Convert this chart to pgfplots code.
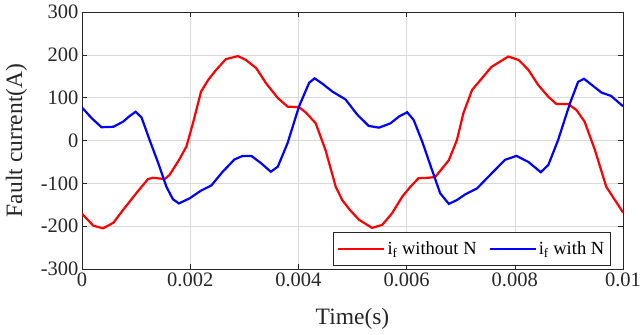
\documentclass[border=0pt]{standalone}
\usepackage{pgfplots}
\pgfplotsset{compat=1.18}
\usepackage{fontspec}
\setmainfont{Liberation Serif}
\definecolor{axgray}{gray}{0.15}
\begin{document}
\begin{tikzpicture}
\begin{axis}[
  scale only axis, width=541pt, height=257pt,
  xmin=0, xmax=0.01, ymin=-300, ymax=300,
  xtick={0,0.002,0.004,0.006,0.008,0.01},
  xticklabels={0,0.002,0.004,0.006,0.008,0.01},
  scaled x ticks=false,
  ytick={-300,-200,-100,0,100,200,300},
  yticklabels={-300,-200,-100,0,100,200,300},
  /pgf/number format/assume math mode=true,
  font=\fontsize{20.5}{24}\selectfont,
  ticklabel style={font=\fontsize{20.5}{24}\selectfont, text=axgray},
  label style={font=\fontsize{23.5}{28}\selectfont, text=axgray},
  axis line style={axgray, line width=0.6pt},
  tick style={axgray, line width=0.6pt},
  tick align=inside, major tick length=5pt,
  grid=major, major grid style={gray!30, line width=0.5pt},
  xlabel={Time(s)}, ylabel={Fault current(A)},
  xlabel style={yshift=-15pt},
  ylabel style={yshift=7pt},
  legend columns=2,
  legend style={at={(rel axis cs:0.977,0.014)}, anchor=south east,
    font=\fontsize{18.5}{22}\selectfont, draw=axgray, line width=0.6pt,
    inner xsep=4pt, inner ysep=7pt,
    /tikz/every even column/.append style={column sep=10pt}},
  legend image code/.code={\draw[#1, line width=2.2pt] (0pt,0pt) -- (46pt,0pt);},
]
\addplot[red, line width=2.2pt] table {
0 -171
0.00021 -199
0.00039 -205
0.00058 -192
0.00076 -162
0.00101 -122
0.00122 -90
0.00131 -87
0.00153 -90
0.00162 -80
0.0018 -44
0.00193 -14
0.00205 40
0.0022 114
0.00233 141
0.00248 165
0.00266 190
0.00288 197
0.00303 188
0.00322 169
0.0034 134
0.00362 99
0.0038 79
0.00401 78
0.00414 65
0.00432 40
0.0045 -22
0.00469 -108
0.00481 -139
0.00495 -162
0.00512 -185
0.00536 -204
0.00555 -197
0.00573 -170
0.00592 -131
0.00607 -108
0.00622 -88
0.00641 -87
0.00653 -85
0.00678 -46
0.00693 1
0.00705 64
0.00721 118
0.00739 145
0.00757 172
0.00788 196
0.00807 188
0.00825 165
0.00843 130
0.00862 102
0.00877 85
0.00899 85
0.00914 71
0.00929 44
0.00948 -22
0.00969 -108
0.00985 -139
0.01 -168
};
\addlegendentry{i\textsubscript{f} without N}
\addplot[blue, line width=2.2pt] table {
0 77
0.00018 52
0.00036 31
0.00058 32
0.00076 44
0.00088 57
0.00099 67
0.0011 54
0.00125 1
0.00141 -53
0.00156 -108
0.00168 -137
0.00179 -147
0.00199 -135
0.0022 -117
0.00239 -105
0.0026 -73
0.00282 -44
0.00297 -36
0.00313 -36
0.00331 -53
0.00349 -73
0.00362 -61
0.0038 -6
0.00401 79
0.0042 135
0.0043 145
0.00444 133
0.00463 114
0.00487 96
0.00509 60
0.0053 34
0.00549 30
0.0057 40
0.00586 56
0.00601 66
0.00613 48
0.00629 -3
0.00647 -69
0.00662 -123
0.00678 -148
0.00693 -139
0.00708 -126
0.0073 -112
0.00757 -77
0.00782 -45
0.00803 -36
0.00825 -50
0.00848 -74
0.00862 -57
0.0088 1
0.00902 87
0.00917 137
0.00928 144
0.00942 130
0.0096 112
0.00978 104
0.01 80
};
\addlegendentry{i\textsubscript{f} with N}
\end{axis}
\pgfresetboundingbox
\path ([shift={(-82pt,-65pt)}]current axis.south west) rectangle ([shift={(18pt,12pt)}]current axis.north east);
\end{tikzpicture}
\end{document}
